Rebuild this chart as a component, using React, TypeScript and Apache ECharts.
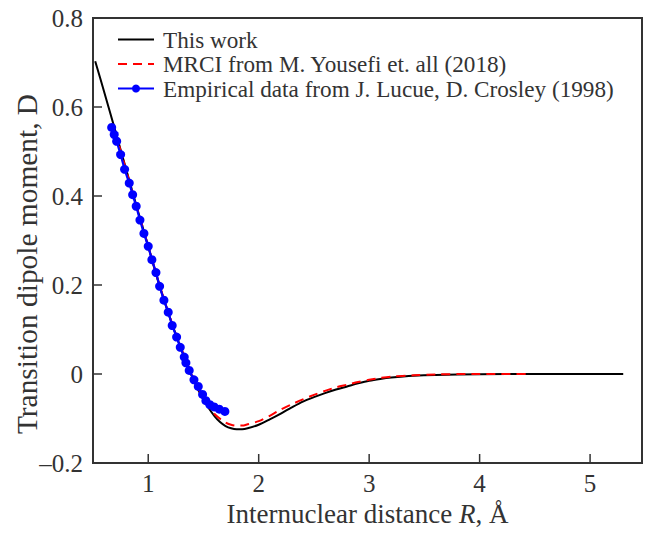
import React, { useEffect, useRef } from "react";
import * as echarts from "echarts";

const xTicks = [1, 2, 3, 4, 5];
const yTicks = [-0.2, 0, 0.2, 0.4, 0.6, 0.8];

const thisWorkR = [0.52, 0.6, 0.7, 0.8, 0.9, 1.0, 1.1, 1.2, 1.3, 1.4, 1.5, 1.6, 1.65, 1.7, 1.75, 1.8, 1.85, 1.9, 2.0, 2.1, 2.2, 2.3, 2.4, 2.5, 2.6, 2.7, 2.8, 2.9, 3.0, 3.1, 3.2, 3.4, 3.6, 4.0, 4.5, 5.3];
const thisWorkD = [0.703, 0.635, 0.548, 0.46, 0.372, 0.287, 0.2, 0.124, 0.055, -0.008, -0.058, -0.095, -0.108, -0.117, -0.122, -0.124, -0.124, -0.122, -0.114, -0.102, -0.089, -0.075, -0.062, -0.052, -0.043, -0.035, -0.028, -0.021, -0.015, -0.011, -0.008, -0.004, -0.002, -0.0005, 0.0, 0.0];

const mrciR = [0.7, 0.8, 0.9, 1.0, 1.1, 1.2, 1.3, 1.4, 1.5, 1.6, 1.7, 1.75, 1.8, 1.85, 1.9, 2.0, 2.1, 2.2, 2.3, 2.4, 2.5, 2.6, 2.7, 2.8, 2.9, 3.0, 3.1, 3.2, 3.4, 3.6, 4.0, 4.42];
const mrciD = [0.545, 0.458, 0.372, 0.287, 0.202, 0.125, 0.057, -0.004, -0.055, -0.09, -0.109, -0.114, -0.116, -0.116, -0.113, -0.106, -0.094, -0.08, -0.068, -0.057, -0.047, -0.038, -0.03, -0.024, -0.018, -0.013, -0.009, -0.006, -0.003, -0.001, 0.0, 0.0];

const empR = [0.669, 0.692, 0.714, 0.75, 0.786, 0.828, 0.859, 0.891, 0.925, 0.961, 1.0, 1.033, 1.07, 1.103, 1.142, 1.181, 1.217, 1.257, 1.29, 1.326, 1.341, 1.371, 1.414, 1.453, 1.492, 1.522, 1.558, 1.597, 1.643, 1.694];
const empD = [0.554, 0.538, 0.523, 0.493, 0.46, 0.429, 0.403, 0.377, 0.346, 0.316, 0.287, 0.257, 0.228, 0.197, 0.166, 0.139, 0.109, 0.083, 0.06, 0.038, 0.025, 0.008, -0.013, -0.028, -0.046, -0.06, -0.069, -0.074, -0.079, -0.084];

const zip = (a: number[], b: number[]) => a.map((v, i) => [v, b[i]]);

const FONT = "Liberation Serif";
const TXT = "#333333";
const AX = "#333333";
const X_MIN = 0.5;
const X_MAX = 5.47;
const Y_MIN = -0.2;
const Y_MAX = 0.8;
const TICK_LEN = 9;

export default function App() {
  const ref = useRef<HTMLDivElement>(null);
  useEffect(() => {
    const chart = echarts.init(ref.current!, undefined, { renderer: "svg" });
    chart.setOption({
      animation: false,
      backgroundColor: "#ffffff",
      textStyle: { fontFamily: FONT },
      grid: {
        left: 93,
        top: 18,
        right: 7,
        bottom: 71,
        show: true,
        borderColor: AX,
        borderWidth: 2,
        backgroundColor: "transparent",
      },
      legend: {
        orient: "vertical",
        left: 117,
        top: 28,
        padding: 0,
        itemWidth: 36,
        itemHeight: 10,
        itemGap: 1.5,
        textStyle: { fontFamily: FONT, fontSize: 23.2, color: TXT, padding: [0, 0, 0, 4] },
        data: [
          { name: "This work", itemStyle: { opacity: 0 } },
          { name: "MRCI from M. Yousefi et. all (2018)", itemStyle: { opacity: 0 } },
          { name: "Empirical data from J. Lucue, D. Crosley (1998)" },
        ],
      },
      graphic: [
        {
          type: "text",
          x: 27,
          y: 264,
          rotation: Math.PI / 2,
          style: {
            text: "Transition dipole moment, D",
            font: `29.4px ${FONT}`,
            fill: TXT,
            align: "center",
            verticalAlign: "middle",
          },
        },
      ],
      xAxis: {
        type: "value",
        min: X_MIN,
        max: X_MAX,
        name: "Internuclear distance {i|R}, Å",
        nameLocation: "middle",
        nameGap: 34,
        nameTextStyle: {
          fontFamily: FONT,
          fontSize: 27,
          color: TXT,
          rich: { i: { fontStyle: "italic", fontFamily: FONT, fontSize: 27, color: TXT } },
        },
        axisLine: { show: true, onZero: false, lineStyle: { color: AX, width: 2 } },
        axisTick: { show: false },
        axisLabel: { customValues: xTicks, fontFamily: FONT, fontSize: 25, color: TXT, margin: 8 },
        splitLine: { show: false },
      },
      yAxis: {
        type: "value",
        min: Y_MIN,
        max: Y_MAX,
        interval: 0.2,
        axisLine: { show: true, onZero: false, lineStyle: { color: AX, width: 2 } },
        axisTick: { show: false },
        axisLabel: {
          fontFamily: FONT,
          fontSize: 25,
          color: TXT,
          margin: 10,
          formatter: (v: number) => {
            const r = Math.round(v * 10) / 10;
            if (r === 0) return "0";
            return r < 0 ? "–" + Math.abs(r).toFixed(1) : r.toFixed(1);
          },
        },
        splitLine: { show: false },
      },
      series: [
        {
          type: "custom",
          name: "xticks",
          silent: true,
          data: xTicks.map((v) => [v, Y_MIN]),
          renderItem: (params: any, api: any) => {
            const p = api.coord([api.value(0), api.value(1)]);
            return {
              type: "line",
              shape: { x1: p[0], y1: p[1], x2: p[0], y2: p[1] - TICK_LEN },
              style: { stroke: AX, lineWidth: 1.5 },
            };
          },
          z: 1,
        },
        {
          type: "custom",
          name: "yticks",
          silent: true,
          data: yTicks.map((v) => [X_MIN, v]),
          renderItem: (params: any, api: any) => {
            const p = api.coord([api.value(0), api.value(1)]);
            return {
              type: "line",
              shape: { x1: p[0], y1: p[1], x2: p[0] + TICK_LEN, y2: p[1] },
              style: { stroke: AX, lineWidth: 1.5 },
            };
          },
          z: 1,
        },
        {
          name: "This work",
          type: "line",
          data: zip(thisWorkR, thisWorkD),
          smooth: 0.3,
          symbol: "none",
          lineStyle: { color: "#000000", width: 2 },
          itemStyle: { color: "#000000" },
          z: 2,
        },
        {
          name: "MRCI from M. Yousefi et. all (2018)",
          type: "line",
          data: zip(mrciR, mrciD),
          smooth: 0.3,
          symbol: "none",
          lineStyle: { color: "#ff0000", width: 2, type: [9, 6] },
          itemStyle: { color: "#ff0000" },
          z: 3,
        },
        {
          name: "Empirical data from J. Lucue, D. Crosley (1998)",
          type: "line",
          data: zip(empR, empD),
          symbol: "circle",
          symbolSize: 9,
          showAllSymbol: true,
          lineStyle: { color: "#0000ff", width: 2.2 },
          itemStyle: { color: "#0000ff" },
          z: 4,
        },
      ],
    });
    return () => chart.dispose();
  }, []);
  return (
    <div
      ref={ref}
      style={{ position: "fixed", left: 0, top: 0, width: 649, height: 534 }}
    />
  );
}
